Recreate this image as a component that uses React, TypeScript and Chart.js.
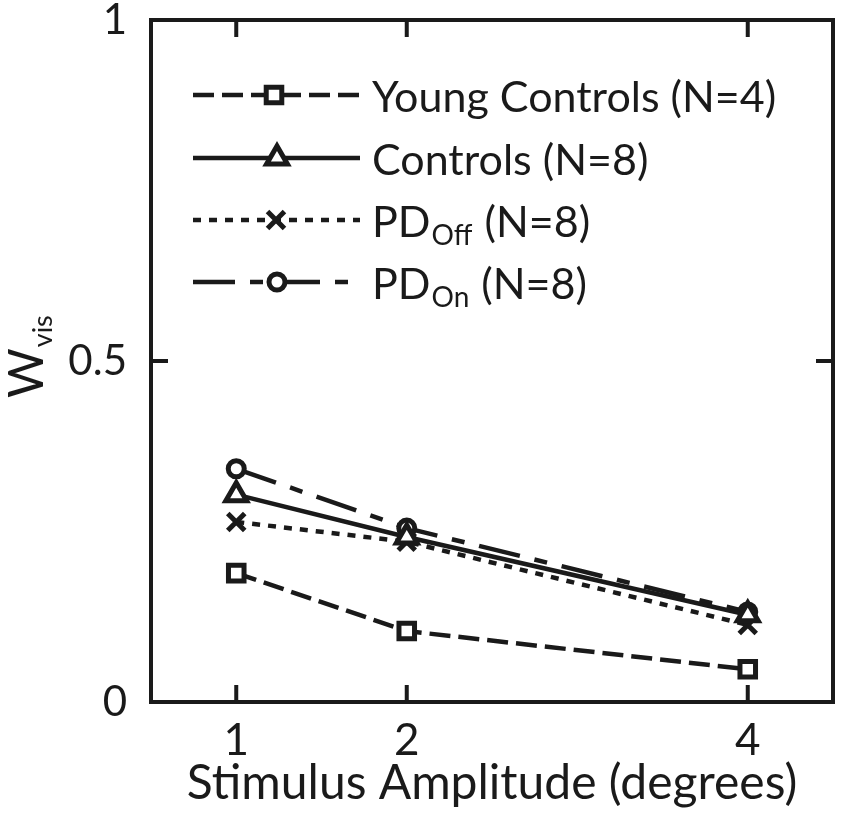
import { useEffect, useRef } from "react"
import { Chart, registerables } from "chart.js"

Chart.register(...registerables)

// stimulus amplitude (degrees)
const amplitudes = [1, 2, 4]
const xTicks = [1, 2, 4]
const yTicks = [0, 0.5, 1]

// W_vis per group
const youngControls = [0.189, 0.104, 0.048]
const controls = [0.304, 0.242, 0.128]
const pdOff = [0.264, 0.235, 0.113]
const pdOn = [0.342, 0.255, 0.132]

const INK = "#1a1a1a"
const FONT = "Lato"
const LINE_W = 4.5
const MARK_W = 5

interface Series {
  label: string
  sub?: string
  tail: string
  values: number[]
  dash: number[]
  pointStyle: string
  radius: number
}

const series: Series[] = [
  { label: "Young Controls (N=4)", tail: "", values: youngControls, dash: [21, 8], pointStyle: "rect", radius: 11 },
  { label: "Controls (N=8)", tail: "", values: controls, dash: [], pointStyle: "triangle", radius: 12 },
  { label: "PD", sub: "Off", tail: " (N=8)", values: pdOff, dash: [8, 8], pointStyle: "crossRot", radius: 12 },
  { label: "PD", sub: "On", tail: " (N=8)", values: pdOn, dash: [42, 15, 13, 15], pointStyle: "circle", radius: 8 },
]

// legend layout (row centre, marker x)
const legendRows = [95, 158, 220, 282]
const legendMarkerX = [274, 277, 276, 277]

function drawMarker(ctx: CanvasRenderingContext2D, style: string, x: number, y: number, r: number) {
  ctx.save()
  ctx.setLineDash([])
  ctx.fillStyle = "#fff"
  ctx.strokeStyle = INK
  ctx.lineWidth = MARK_W
  ctx.beginPath()
  if (style === "rect") {
    const s = r * Math.SQRT1_2
    ctx.rect(x - s, y - s, s * 2, s * 2)
    ctx.fill()
    ctx.stroke()
  } else if (style === "triangle") {
    const w = r * 0.866
    ctx.moveTo(x, y - r)
    ctx.lineTo(x + w, y + r / 2)
    ctx.lineTo(x - w, y + r / 2)
    ctx.closePath()
    ctx.fill()
    ctx.stroke()
  } else if (style === "crossRot") {
    const s = r * Math.SQRT1_2
    ctx.moveTo(x - s, y - s)
    ctx.lineTo(x + s, y + s)
    ctx.moveTo(x + s, y - s)
    ctx.lineTo(x - s, y + s)
    ctx.stroke()
  } else {
    ctx.arc(x, y, r, 0, Math.PI * 2)
    ctx.fill()
    ctx.stroke()
  }
  ctx.restore()
}

const framePlugin = {
  id: "frame",
  afterDraw(chart: Chart) {
    const ctx = chart.ctx
    const { left, right, top, bottom } = chart.chartArea
    const xs = chart.scales.x
    const ys = chart.scales.y
    const tick = 17
    ctx.save()
    ctx.strokeStyle = INK
    ctx.lineWidth = 4
    ctx.setLineDash([])
    ctx.strokeRect(left, top, right - left, bottom - top)
    ctx.beginPath()
    xTicks.forEach((v) => {
      const px = xs.getPixelForValue(v)
      ctx.moveTo(px, bottom)
      ctx.lineTo(px, bottom - tick)
      ctx.moveTo(px, top)
      ctx.lineTo(px, top + tick)
    })
    ;[0.5].forEach((v) => {
      const py = ys.getPixelForValue(v)
      ctx.moveTo(left, py)
      ctx.lineTo(left + tick, py)
      ctx.moveTo(right, py)
      ctx.lineTo(right - tick, py)
    })
    ctx.stroke()

    // y axis title: W with subscript vis
    ctx.rotate(-Math.PI / 2)
    ctx.fillStyle = INK
    ctx.textAlign = "left"
    ctx.textBaseline = "alphabetic"
    ctx.font = `48px ${FONT}`
    const wW = ctx.measureText("W").width
    ctx.fillText("W", -398, 43)
    ctx.font = `27px ${FONT}`
    ctx.fillText("vis", -398 + wW + 1, 52)
    ctx.restore()

    // legend
    ctx.save()
    series.forEach((s, i) => {
      const y = legendRows[i]
      ctx.strokeStyle = INK
      ctx.lineWidth = LINE_W
      ctx.setLineDash(s.dash)
      ctx.beginPath()
      ctx.moveTo(193, y)
      ctx.lineTo(360, y)
      ctx.stroke()
      drawMarker(ctx, s.pointStyle, legendMarkerX[i], y, s.radius)
      ctx.fillStyle = INK
      ctx.textAlign = "left"
      ctx.textBaseline = "middle"
      ctx.font = `43px ${FONT}`
      let x = 372
      const ty = y + 3
      ctx.fillText(s.label, x, ty)
      x += ctx.measureText(s.label).width
      if (s.sub) {
        ctx.font = `28px ${FONT}`
        ctx.fillText(s.sub, x + 1, ty + 13)
        x += ctx.measureText(s.sub).width + 2
        ctx.font = `43px ${FONT}`
        ctx.fillText(s.tail, x, ty)
      }
    })
    ctx.restore()
  },
}

function LineChart() {
  const chartRef = useRef<HTMLCanvasElement>(null)
  const chartInstance = useRef<Chart | null>(null)

  useEffect(() => {
    if (!chartRef.current) return
    if (chartInstance.current) chartInstance.current.destroy()
    const ctx = chartRef.current.getContext("2d")
    if (!ctx) return

    chartInstance.current = new Chart(ctx, {
      type: "line",
      data: {
        datasets: series.map((s) => ({
          label: s.sub ? s.label + s.sub + s.tail : s.label,
          data: amplitudes.map((a, i) => ({ x: a, y: s.values[i] })),
          borderColor: INK,
          borderWidth: LINE_W,
          borderDash: s.dash,
          backgroundColor: "#fff",
          pointStyle: s.pointStyle as any,
          pointRadius: s.radius,
          pointBorderWidth: MARK_W,
          pointBorderColor: INK,
          pointBackgroundColor: "#fff",
          tension: 0,
          fill: false,
        })),
      },
      options: {
        animation: false,
        responsive: true,
        maintainAspectRatio: false,
        layout: { padding: { top: 20, right: 17, left: 0, bottom: 0 } },
        plugins: {
          legend: { display: false },
          tooltip: { enabled: false },
        },
        scales: {
          x: {
            type: "linear",
            min: 0.5,
            max: 4.5,
            afterBuildTicks: (scale: any) => {
              scale.ticks = xTicks.map((v) => ({ value: v }))
            },
            afterFit: (scale: any) => {
              scale.height = 118
              scale.paddingLeft = 0
              scale.paddingRight = 0
            },
            grid: { display: false, drawTicks: false },
            border: { display: false },
            ticks: {
              color: INK,
              padding: 12,
              font: { family: FONT, size: 44 },
              callback: (v: any) => String(v),
            },
            title: {
              display: true,
              text: "Stimulus Amplitude (degrees)",
              color: INK,
              font: { family: FONT, size: 48 },
              padding: { top: 0, bottom: 8 },
            },
          },
          y: {
            min: 0,
            max: 1,
            afterBuildTicks: (scale: any) => {
              scale.ticks = yTicks.map((v) => ({ value: v }))
            },
            afterFit: (scale: any) => {
              scale.width = 151
              scale.paddingTop = 0
              scale.paddingBottom = 0
            },
            grid: { display: false, drawTicks: false },
            border: { display: false },
            ticks: {
              color: INK,
              padding: 24,
              font: { family: FONT, size: 42 },
              callback: (v: any) => String(v),
            },
          },
        },
      },
      plugins: [framePlugin],
    })

    return () => {
      if (chartInstance.current) {
        chartInstance.current.destroy()
        chartInstance.current = null
      }
    }
  }, [])

  return <canvas ref={chartRef} />
}

export default function App() {
  return (
    <div style={{ position: "fixed", left: 0, top: 0, width: 850, height: 820, background: "#fff" }}>
      <LineChart />
    </div>
  )
}
